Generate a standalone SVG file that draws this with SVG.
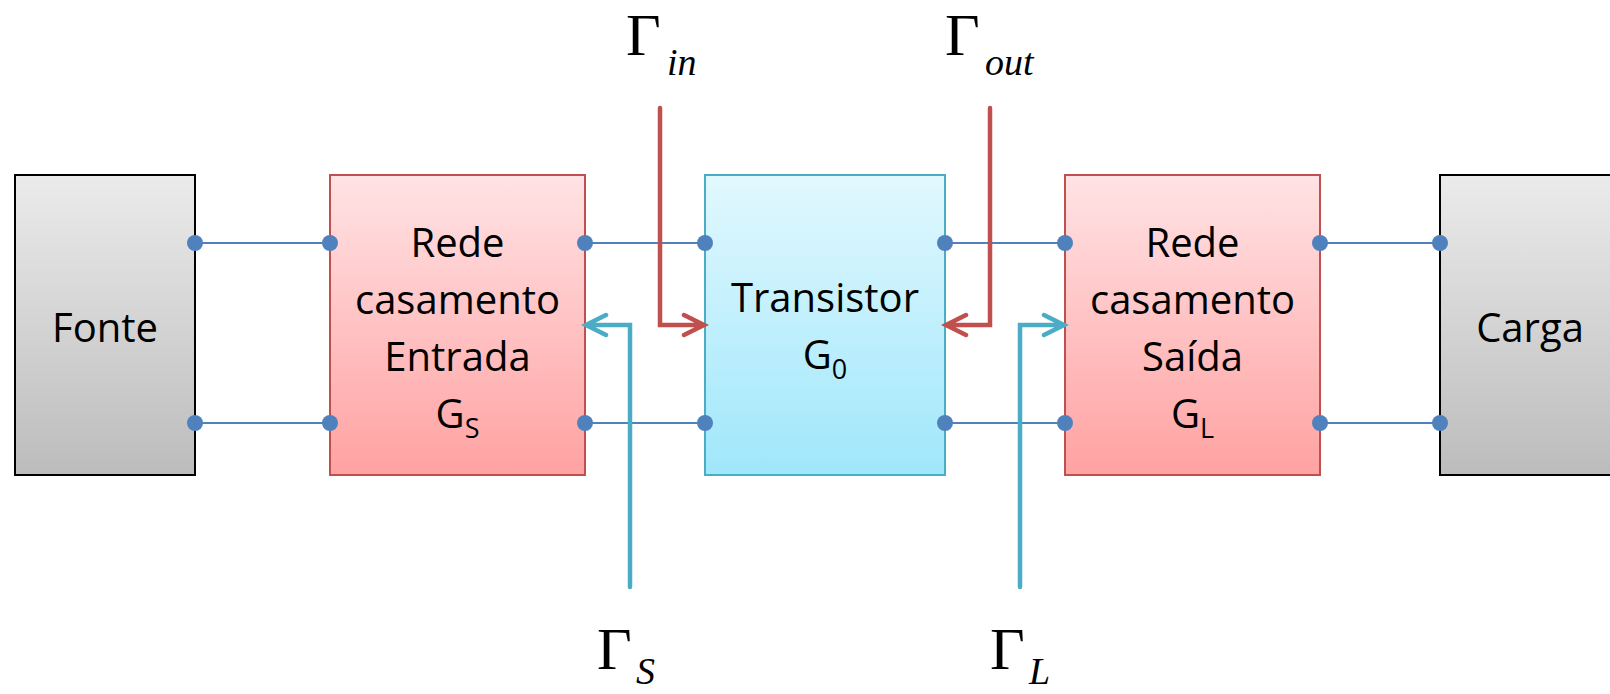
<svg xmlns="http://www.w3.org/2000/svg" width="1610" height="694" viewBox="0 0 1610 694">
<defs>
<linearGradient id="gGray" x1="0" y1="0" x2="0" y2="1"><stop offset="0" stop-color="#ebebeb"/><stop offset="1" stop-color="#bcbcbc"/></linearGradient>
<linearGradient id="gRed" x1="0" y1="0" x2="0" y2="1"><stop offset="0" stop-color="#ffe3e5"/><stop offset="1" stop-color="#ffa2a2"/></linearGradient>
<linearGradient id="gBlue" x1="0" y1="0" x2="0" y2="1"><stop offset="0" stop-color="#e2f8fe"/><stop offset="1" stop-color="#9fe7fb"/></linearGradient>
<style>
.gray{fill:url(#gGray);stroke:#000;stroke-width:2}
.red{fill:url(#gRed);stroke:#c0504d;stroke-width:2}
.blue{fill:url(#gBlue);stroke:#4bacc6;stroke-width:2}
.lbl{font-family:"Open Sans","Liberation Sans",sans-serif;font-size:40px;fill:#000;text-anchor:middle}
.sub{font-size:27px}
.wire{stroke:#4f81bd;stroke-width:2;fill:none}
.dot{fill:#4f81bd}
.ra{stroke:#c0504d;stroke-width:4.5;fill:none;stroke-linecap:round;stroke-linejoin:miter}
.ba{stroke:#4bacc6;stroke-width:4.5;fill:none;stroke-linecap:round;stroke-linejoin:miter}
.gam{font-family:"Liberation Serif","DejaVu Serif",serif;font-size:60px;fill:#000}
.gsub{font-family:"Liberation Serif","DejaVu Serif",serif;font-size:38px;font-style:italic;fill:#000}
</style>
</defs>
<g id="fonte"><rect class="gray" x="15" y="175" width="180" height="300"/><text class="lbl" x="105" y="342">Fonte</text></g>
<g id="rede-entrada"><rect class="red" x="330" y="175" width="255" height="300"/>
<text class="lbl" x="457.5" y="257">Rede</text>
<text class="lbl" x="457.5" y="314">casamento</text>
<text class="lbl" x="457.5" y="371">Entrada</text>
<text class="lbl" x="457.5" y="428">G<tspan class="sub" dy="10">S</tspan></text></g>
<g id="transistor"><rect class="blue" x="705" y="175" width="240" height="300"/>
<text class="lbl" x="825" y="312">Transistor</text>
<text class="lbl" x="825" y="369">G<tspan class="sub" dy="10">0</tspan></text></g>
<g id="rede-saida"><rect class="red" x="1065" y="175" width="255" height="300"/>
<text class="lbl" x="1192.5" y="257">Rede</text>
<text class="lbl" x="1192.5" y="314">casamento</text>
<text class="lbl" x="1192.5" y="371">Saída</text>
<text class="lbl" x="1192.5" y="428">G<tspan class="sub" dy="10">L</tspan></text></g>
<g id="carga"><rect class="gray" x="1440" y="175" width="180" height="300"/><text class="lbl" x="1530" y="342">Carga</text></g>
<g id="connectors">
<path class="wire" d="M195 243H330M585 243H705M945 243H1065M1320 243H1440M195 423H330M585 423H705M945 423H1065M1320 423H1440"/>
<g class="dot">
<circle cx="195" cy="243" r="8"/><circle cx="330" cy="243" r="8"/><circle cx="585" cy="243" r="8"/><circle cx="705" cy="243" r="8"/><circle cx="945" cy="243" r="8"/><circle cx="1065" cy="243" r="8"/><circle cx="1320" cy="243" r="8"/><circle cx="1440" cy="243" r="8"/>
<circle cx="195" cy="423" r="8"/><circle cx="330" cy="423" r="8"/><circle cx="585" cy="423" r="8"/><circle cx="705" cy="423" r="8"/><circle cx="945" cy="423" r="8"/><circle cx="1065" cy="423" r="8"/><circle cx="1320" cy="423" r="8"/><circle cx="1440" cy="423" r="8"/>
</g>
<path class="ra" d="M660 108V325H703M684 315L704 325L684 335"/>
<path class="ra" d="M990 108V325H947M966 315L946 325L966 335"/>
<path class="ba" d="M630 587V325H587M606 315L586 325L606 335"/>
<path class="ba" d="M1020 587V325H1063M1044 315L1064 325L1044 335"/>
</g>
<g id="labels">
<text class="gam" x="626" y="55">Γ</text><text class="gsub" x="667" y="75">in</text>
<text class="gam" x="945" y="55">Γ</text><text class="gsub" x="985" y="75">out</text>
<text class="gam" x="597" y="669">Γ</text><text class="gsub" x="636" y="684">S</text>
<text class="gam" x="990" y="669">Γ</text><text class="gsub" x="1029" y="684">L</text>
</g>
</svg>
